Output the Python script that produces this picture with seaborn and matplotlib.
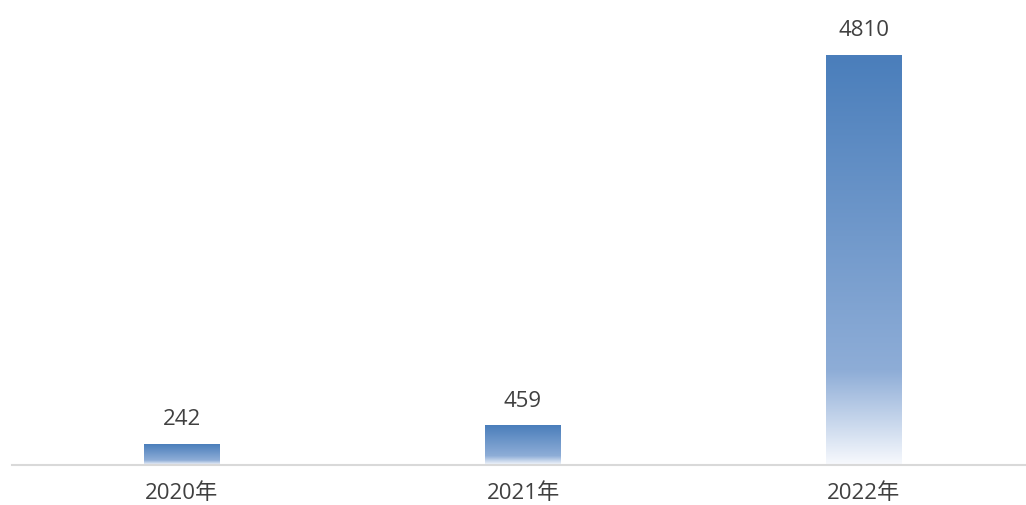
import numpy as np
import pandas as pd
import matplotlib
matplotlib.use("Agg")
import matplotlib.pyplot as plt
from matplotlib.colors import LinearSegmentedColormap
import seaborn as sns

# data
years = ["2020年", "2021年", "2022年"]
values = [242, 459, 4810]

sns.set_style("white")
plt.rcParams["font.family"] = ["Open Sans", "Noto Sans CJK SC", "DejaVu Sans"]

df = pd.DataFrame({"year": years, "value": values})

fig = plt.figure(figsize=(10.26, 5.06), dpi=100)
ax = fig.add_axes([11.5 / 1026, 40 / 506, 1023 / 1026, 426 / 506])

sns.barplot(data=df, x="year", y="value", ax=ax, width=0.22, color="#4F81BD")

# gradient: blue at top, lighter, then fading to white at the bottom of each bar
grad = LinearSegmentedColormap.from_list(
    "bar_grad",
    [(0.0, "#f7f9fd"), (0.23, "#8eadd7"), (1.0, "#4a7ebb")],
)
for p in ax.patches:
    x0, y0 = p.get_x(), p.get_y()
    w, h = p.get_width(), p.get_height()
    p.set_facecolor("none")
    p.set_edgecolor("none")
    ax.imshow(
        np.linspace(0, 1, 256).reshape(-1, 1),
        cmap=grad,
        extent=[x0, x0 + w, y0, y0 + h],
        origin="lower",
        aspect="auto",
        zorder=2,
    )
    ax.annotate(
        f"{int(round(h))}",
        (x0 + w / 2, h),
        xytext=(0, 11),
        textcoords="offset points",
        ha="center",
        va="bottom",
        fontsize=16,
        color="#404040",
    )
ax.set_xlim(-0.5, 2.5)
ax.set_ylim(0, 4810 * 426 / 410)

sns.despine(ax=ax, left=True, top=True, right=True)
ax.spines["bottom"].set_color("#d9d9d9")
ax.spines["bottom"].set_linewidth(1.5)
ax.set_yticks([])
ax.set_xlabel("")
ax.set_ylabel("")
ax.tick_params(axis="x", length=0, pad=12, labelsize=16, labelcolor="#404040")

fig.savefig("out.png", dpi=100)
